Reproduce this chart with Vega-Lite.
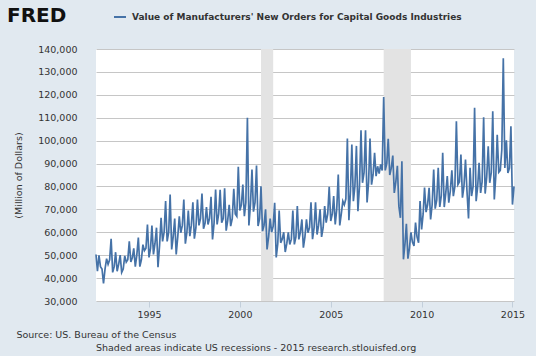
{
  "$schema": "https://vega.github.io/schema/vega-lite/v6.json",
  "width": 418,
  "height": 252,
  "autosize": {"type": "none"},
  "padding": {"left": 96, "top": 49, "right": 22, "bottom": 55},
  "background": "#e1e9f0",
  "config": {"font": "DejaVu Sans", "view": {"fill": "white", "stroke": null}},
  "title": {"text": "Shaded areas indicate US recessions - 2015 research.stlouisfed.org", "orient": "bottom", "anchor": "start", "frame": "group", "fontSize": 9.5, "fontWeight": "normal", "color": "#333333", "offset": 4},
  "datasets": {
    "rec": [
      {"start": "2001-03-01", "end": "2001-11-01"},
      {"start": "2007-12-01", "end": "2009-06-01"}
    ],
    "series": [
      {"d":"1992-02-01","v":50300},{"d":"1992-03-01","v":43000},{"d":"1992-04-01","v":49900},{"d":"1992-05-01","v":45000},{"d":"1992-06-01","v":44000},{"d":"1992-07-01","v":37700},{"d":"1992-08-01","v":44000},{"d":"1992-09-01","v":48500},{"d":"1992-10-01","v":46000},{"d":"1992-11-01","v":48000},{"d":"1992-12-01","v":57200},
      {"d":"1993-01-01","v":42500},{"d":"1993-02-01","v":45000},{"d":"1993-03-01","v":51300},{"d":"1993-04-01","v":43000},{"d":"1993-05-01","v":46000},{"d":"1993-06-01","v":50000},{"d":"1993-07-01","v":42500},{"d":"1993-08-01","v":44000},{"d":"1993-09-01","v":49700},{"d":"1993-10-01","v":47000},{"d":"1993-11-01","v":48000},{"d":"1993-12-01","v":56100},
      {"d":"1994-01-01","v":47000},{"d":"1994-02-01","v":49000},{"d":"1994-03-01","v":53000},{"d":"1994-04-01","v":45000},{"d":"1994-05-01","v":50000},{"d":"1994-06-01","v":57700},{"d":"1994-07-01","v":45000},{"d":"1994-08-01","v":48000},{"d":"1994-09-01","v":54600},{"d":"1994-10-01","v":52000},{"d":"1994-11-01","v":53000},{"d":"1994-12-01","v":63400},
      {"d":"1995-01-01","v":49000},{"d":"1995-02-01","v":53000},{"d":"1995-03-01","v":62900},{"d":"1995-04-01","v":50300},{"d":"1995-05-01","v":55000},{"d":"1995-06-01","v":62000},{"d":"1995-07-01","v":44800},{"d":"1995-08-01","v":54000},{"d":"1995-09-01","v":66300},{"d":"1995-10-01","v":56000},{"d":"1995-11-01","v":60000},{"d":"1995-12-01","v":73600},
      {"d":"1996-01-01","v":56000},{"d":"1996-02-01","v":60000},{"d":"1996-03-01","v":76500},{"d":"1996-04-01","v":52500},{"d":"1996-05-01","v":58000},{"d":"1996-06-01","v":66000},{"d":"1996-07-01","v":50300},{"d":"1996-08-01","v":58000},{"d":"1996-09-01","v":67000},{"d":"1996-10-01","v":59800},{"d":"1996-11-01","v":63000},{"d":"1996-12-01","v":74300},
      {"d":"1997-01-01","v":55000},{"d":"1997-02-01","v":60000},{"d":"1997-03-01","v":69500},{"d":"1997-04-01","v":58300},{"d":"1997-05-01","v":63000},{"d":"1997-06-01","v":73100},{"d":"1997-07-01","v":57200},{"d":"1997-08-01","v":62000},{"d":"1997-09-01","v":74300},{"d":"1997-10-01","v":63000},{"d":"1997-11-01","v":66000},{"d":"1997-12-01","v":76900},
      {"d":"1998-01-01","v":61500},{"d":"1998-02-01","v":64000},{"d":"1998-03-01","v":71000},{"d":"1998-04-01","v":63400},{"d":"1998-05-01","v":66000},{"d":"1998-06-01","v":75500},{"d":"1998-07-01","v":56900},{"d":"1998-08-01","v":64000},{"d":"1998-09-01","v":78700},{"d":"1998-10-01","v":63400},{"d":"1998-11-01","v":68000},{"d":"1998-12-01","v":78500},
      {"d":"1999-01-01","v":64200},{"d":"1999-02-01","v":66000},{"d":"1999-03-01","v":79200},{"d":"1999-04-01","v":60700},{"d":"1999-05-01","v":65000},{"d":"1999-06-01","v":72000},{"d":"1999-07-01","v":62700},{"d":"1999-08-01","v":66000},{"d":"1999-09-01","v":79000},{"d":"1999-10-01","v":68000},{"d":"1999-11-01","v":67000},{"d":"1999-12-01","v":88600},
      {"d":"2000-01-01","v":69500},{"d":"2000-02-01","v":72000},{"d":"2000-03-01","v":80800},{"d":"2000-04-01","v":67000},{"d":"2000-05-01","v":73000},{"d":"2000-06-01","v":110000},{"d":"2000-07-01","v":63000},{"d":"2000-08-01","v":72000},{"d":"2000-09-01","v":87400},{"d":"2000-10-01","v":69000},{"d":"2000-11-01","v":73000},{"d":"2000-12-01","v":89100},
      {"d":"2001-01-01","v":62700},{"d":"2001-02-01","v":66000},{"d":"2001-03-01","v":80100},{"d":"2001-04-01","v":60500},{"d":"2001-05-01","v":63000},{"d":"2001-06-01","v":70000},{"d":"2001-07-01","v":52500},{"d":"2001-08-01","v":58000},{"d":"2001-09-01","v":66000},{"d":"2001-10-01","v":60000},{"d":"2001-11-01","v":62700},{"d":"2001-12-01","v":72900},
      {"d":"2002-01-01","v":49000},{"d":"2002-02-01","v":55000},{"d":"2002-03-01","v":69500},{"d":"2002-04-01","v":55400},{"d":"2002-05-01","v":57000},{"d":"2002-06-01","v":60000},{"d":"2002-07-01","v":51400},{"d":"2002-08-01","v":55000},{"d":"2002-09-01","v":60000},{"d":"2002-10-01","v":54700},{"d":"2002-11-01","v":57000},{"d":"2002-12-01","v":69500},
      {"d":"2003-01-01","v":54700},{"d":"2003-02-01","v":58000},{"d":"2003-03-01","v":71400},{"d":"2003-04-01","v":56900},{"d":"2003-05-01","v":60000},{"d":"2003-06-01","v":65600},{"d":"2003-07-01","v":53300},{"d":"2003-08-01","v":58000},{"d":"2003-09-01","v":65600},{"d":"2003-10-01","v":59800},{"d":"2003-11-01","v":62000},{"d":"2003-12-01","v":73100},
      {"d":"2004-01-01","v":57000},{"d":"2004-02-01","v":62000},{"d":"2004-03-01","v":73100},{"d":"2004-04-01","v":59000},{"d":"2004-05-01","v":63000},{"d":"2004-06-01","v":70000},{"d":"2004-07-01","v":58000},{"d":"2004-08-01","v":62000},{"d":"2004-09-01","v":71400},{"d":"2004-10-01","v":64200},{"d":"2004-11-01","v":68000},{"d":"2004-12-01","v":79900},
      {"d":"2005-01-01","v":64900},{"d":"2005-02-01","v":68000},{"d":"2005-03-01","v":75800},{"d":"2005-04-01","v":63400},{"d":"2005-05-01","v":70000},{"d":"2005-06-01","v":85200},{"d":"2005-07-01","v":63000},{"d":"2005-08-01","v":68000},{"d":"2005-09-01","v":73600},{"d":"2005-10-01","v":72000},{"d":"2005-11-01","v":74600},{"d":"2005-12-01","v":100900},
      {"d":"2006-01-01","v":65300},{"d":"2006-02-01","v":78000},{"d":"2006-03-01","v":98300},{"d":"2006-04-01","v":73600},{"d":"2006-05-01","v":80000},{"d":"2006-06-01","v":97700},{"d":"2006-07-01","v":69200},{"d":"2006-08-01","v":80000},{"d":"2006-09-01","v":104500},{"d":"2006-10-01","v":81600},{"d":"2006-11-01","v":86000},{"d":"2006-12-01","v":104500},
      {"d":"2007-01-01","v":73000},{"d":"2007-02-01","v":82000},{"d":"2007-03-01","v":100900},{"d":"2007-04-01","v":80800},{"d":"2007-05-01","v":85000},{"d":"2007-06-01","v":94700},{"d":"2007-07-01","v":84500},{"d":"2007-08-01","v":88800},{"d":"2007-09-01","v":85600},{"d":"2007-10-01","v":89600},{"d":"2007-11-01","v":87000},{"d":"2007-12-01","v":119000},
      {"d":"2008-01-01","v":87000},{"d":"2008-02-01","v":90000},{"d":"2008-03-01","v":100800},{"d":"2008-04-01","v":85000},{"d":"2008-05-01","v":88000},{"d":"2008-06-01","v":93500},{"d":"2008-07-01","v":77200},{"d":"2008-08-01","v":82000},{"d":"2008-09-01","v":89000},{"d":"2008-10-01","v":71400},{"d":"2008-11-01","v":66300},{"d":"2008-12-01","v":91000},
      {"d":"2009-01-01","v":48200},{"d":"2009-02-01","v":55000},{"d":"2009-03-01","v":63700},{"d":"2009-04-01","v":48500},{"d":"2009-05-01","v":53000},{"d":"2009-06-01","v":60000},{"d":"2009-07-01","v":55700},{"d":"2009-08-01","v":54000},{"d":"2009-09-01","v":64200},{"d":"2009-10-01","v":58000},{"d":"2009-11-01","v":55400},{"d":"2009-12-01","v":73600},
      {"d":"2010-01-01","v":61200},{"d":"2010-02-01","v":68000},{"d":"2010-03-01","v":79500},{"d":"2010-04-01","v":68800},{"d":"2010-05-01","v":72000},{"d":"2010-06-01","v":79400},{"d":"2010-07-01","v":65600},{"d":"2010-08-01","v":72000},{"d":"2010-09-01","v":87400},{"d":"2010-10-01","v":70300},{"d":"2010-11-01","v":74000},{"d":"2010-12-01","v":88100},
      {"d":"2011-01-01","v":71100},{"d":"2011-02-01","v":76000},{"d":"2011-03-01","v":94700},{"d":"2011-04-01","v":71000},{"d":"2011-05-01","v":77000},{"d":"2011-06-01","v":84500},{"d":"2011-07-01","v":72900},{"d":"2011-08-01","v":78000},{"d":"2011-09-01","v":87000},{"d":"2011-10-01","v":75800},{"d":"2011-11-01","v":80000},{"d":"2011-12-01","v":108400},
      {"d":"2012-01-01","v":80800},{"d":"2012-02-01","v":82000},{"d":"2012-03-01","v":93900},{"d":"2012-04-01","v":75100},{"d":"2012-05-01","v":80000},{"d":"2012-06-01","v":91700},{"d":"2012-07-01","v":78000},{"d":"2012-08-01","v":66000},{"d":"2012-09-01","v":88100},{"d":"2012-10-01","v":75800},{"d":"2012-11-01","v":80000},{"d":"2012-12-01","v":114300},
      {"d":"2013-01-01","v":73600},{"d":"2013-02-01","v":80000},{"d":"2013-03-01","v":90300},{"d":"2013-04-01","v":77200},{"d":"2013-05-01","v":82000},{"d":"2013-06-01","v":110200},{"d":"2013-07-01","v":76900},{"d":"2013-08-01","v":84000},{"d":"2013-09-01","v":97500},{"d":"2013-10-01","v":81600},{"d":"2013-11-01","v":86000},{"d":"2013-12-01","v":112800},
      {"d":"2014-01-01","v":74300},{"d":"2014-02-01","v":85000},{"d":"2014-03-01","v":102600},{"d":"2014-04-01","v":86200},{"d":"2014-05-01","v":87000},{"d":"2014-06-01","v":96000},{"d":"2014-07-01","v":136000},{"d":"2014-08-01","v":88100},{"d":"2014-09-01","v":100200},{"d":"2014-10-01","v":85900},{"d":"2014-11-01","v":88000},{"d":"2014-12-01","v":106300},
      {"d":"2015-01-01","v":72100},{"d":"2015-02-01","v":80000}
    ]
  },
  "layer": [
    {
      "data": {"name": "rec"},
      "mark": {"type": "rect", "color": "#e3e3e3"},
      "encoding": {
        "x": {"field": "start", "type": "temporal", "scale": {"type": "utc", "domain": [{"year": 1992, "month": 2, "date": 1, "utc": true}, {"year": 2015, "month": 2, "date": 1, "utc": true}]},
          "axis": {"values": [{"year": 1995, "month": 1, "date": 1, "utc": true}, {"year": 2000, "month": 1, "date": 1, "utc": true}, {"year": 2005, "month": 1, "date": 1, "utc": true}, {"year": 2010, "month": 1, "date": 1, "utc": true}, {"year": 2015, "month": 1, "date": 1, "utc": true}],
            "format": "%Y", "grid": false, "domain": false, "ticks": true, "tickSize": 6, "tickColor": "#c3cfdb", "labelPadding": 2, "labelFontSize": 9.5, "labelColor": "#333333",
            "title": "Source: US. Bureau of the Census", "titleFontSize": 9.5, "titleFontWeight": "normal", "titleColor": "#333333", "titleAnchor": "start", "titleAlign": "left", "titleX": -80, "titleY": 28, "titleBaseline": "top"}},
        "x2": {"field": "end"}
      }
    },
    {
      "data": {"name": "series"},
      "mark": {"type": "line", "strokeWidth": 1.7},
      "encoding": {
        "x": {"field": "d", "type": "temporal"},
        "y": {"field": "v", "type": "quantitative", "scale": {"domain": [30000, 140000], "nice": false, "zero": false},
          "axis": {"values": [30000, 40000, 50000, 60000, 70000, 80000, 90000, 100000, 110000, 120000, 130000, 140000], "format": ",.0f", "grid": true, "gridColor": "#c6c6c6", "gridWidth": 1, "domain": false, "ticks": false, "labelPadding": 19, "labelFontSize": 9.5, "labelColor": "#333333",
            "title": "(Million of Dollars)", "titleFontSize": 9.5, "titleFontWeight": "normal", "titleColor": "#333333", "titlePadding": 14}},
        "color": {"datum": "Value of Manufacturers' New Orders for Capital Goods Industries", "type": "nominal", "scale": {"range": ["#4572a7"]},
          "legend": {"orient": "none", "legendX": -89, "legendY": -39, "title": "FRED", "titleOrient": "left", "titleFontSize": 20, "titleFontWeight": "bold", "titleColor": "#111111", "titlePadding": 46, "symbolType": "stroke", "symbolStrokeWidth": 2, "symbolSize": 144, "labelFontSize": 9, "labelFontWeight": "bold", "labelColor": "#333333", "labelLimit": 0, "labelOffset": 5}}
      }
    }
  ]
}
